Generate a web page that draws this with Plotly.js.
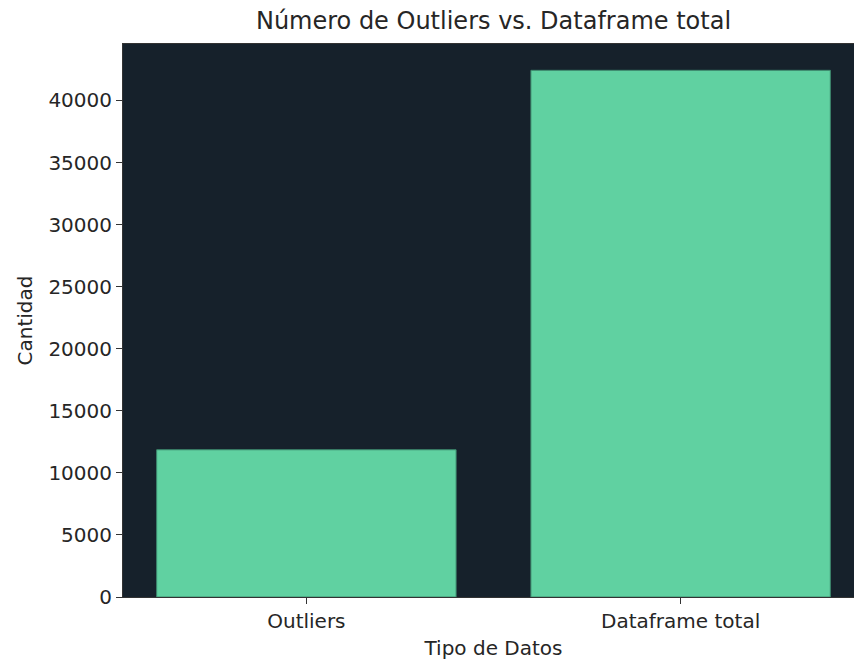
<!DOCTYPE html>
<html>
<head>
<meta charset="utf-8">
<script src="https://cdn.plot.ly/plotly-3.0.1.min.js"></script>
<style>
html, body { margin: 0; padding: 0; overflow: hidden; background: #ffffff; }
#chart { width: 870px; height: 662px; }
</style>
</head>
<body>
<div id="chart"></div>
<script>
const categories = ["Outliers", "Dataframe total"];
const counts = [11860, 42430];
const yTickValues = [0, 5000, 10000, 15000, 20000, 25000, 30000, 35000, 40000];

const textColor = "#262626";
const fontFamily = "DejaVu Sans, sans-serif";

const trace = {
  type: "bar",
  x: categories,
  y: counts,
  width: 0.8,
  marker: {
    color: "rgb(96,209,161)",
    line: { color: "rgb(62,138,110)", width: 1 }
  },
  hoverinfo: "x+y"
};

const layout = {
  width: 870,
  height: 662,
  margin: { l: 123, r: 6, t: 44, b: 65 },
  paper_bgcolor: "#ffffff",
  plot_bgcolor: "rgb(22,33,43)",
  font: { family: fontFamily, color: textColor, size: 20 },
  title: {
    text: "Número de Outliers vs. Dataframe total",
    font: { family: fontFamily, size: 24, color: textColor },
    xref: "paper", x: 0.5, xanchor: "center",
    yref: "container", y: 1 - 21 / 662, yanchor: "middle"
  },
  xaxis: {
    type: "category",
    range: [-0.49, 1.49],
    showgrid: false,
    zeroline: false,
    showline: true, linecolor: "#333333", linewidth: 1, mirror: true,
    ticks: "outside", ticklen: 6, tickwidth: 1, tickcolor: "#333333",
    tickfont: { family: fontFamily, size: 20, color: textColor },
    title: { text: "Tipo de Datos", font: { family: fontFamily, size: 20, color: textColor }, standoff: 8 }
  },
  yaxis: {
    range: [0, 44550],
    tickvals: yTickValues,
    ticktext: yTickValues.map(String),
    showgrid: false,
    zeroline: false,
    showline: true, linecolor: "#333333", linewidth: 1, mirror: true,
    ticks: "outside", ticklen: 6, tickwidth: 1, tickcolor: "#333333",
    tickfont: { family: fontFamily, size: 20, color: textColor },
    title: { text: "Cantidad", font: { family: fontFamily, size: 20, color: textColor }, standoff: 10 }
  },
  showlegend: false,
  bargap: 0.2
};

Plotly.newPlot("chart", [trace], layout, { displayModeBar: false, staticPlot: true });
</script>
</body>
</html>
